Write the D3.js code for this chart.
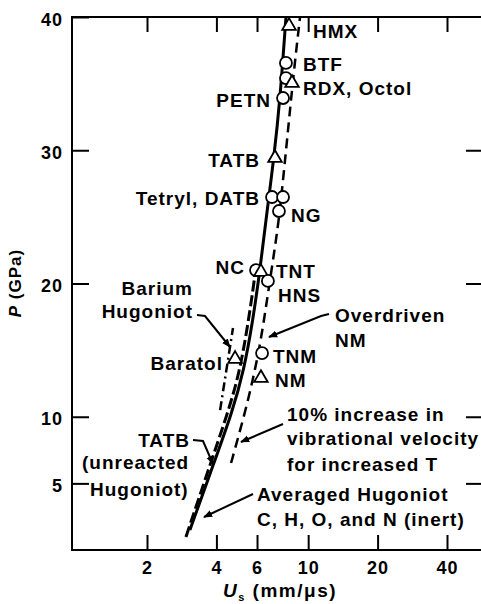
<!DOCTYPE html>
<head>
  <meta charset="utf-8">
  <title>Hugoniot P vs Us</title>
  <script src="https://d3js.org/d3.v7.min.js"></script>
  <style>
    body { margin: 0; background: #fff; }
    text { font-family: "Liberation Sans", Arial, Helvetica, sans-serif; font-weight: bold; fill: #000; }
  </style>
</head>
<body>
<script>
// ---- data: [Us (mm/us), P (GPa)] ----
var averagedHugoniot = [[3.07,1.5],[3.90,6.53],[4.67,10.28],[5.27,13.51],[5.76,17.26],[6.18,21.01],[6.56,24.77],[7.11,29.49],[7.55,33.77],[8.01,40]];
var tatbUnreacted = [[2.95,0.98],[3.75,6.38],[4.45,10.13],[5.01,13.13],[5.48,16.89],[5.88,20.64]];
var vib10pct = [[4.63,6.53],[5.22,9.76],[5.76,12.76],[6.24,15.76],[6.63,18.76],[7.04,21.76],[7.47,24.77],[7.86,28.52],[8.26,32.27],[8.68,36.02],[9.22,40]];
var bariumHugoniot = [[4.15,10.5],[4.72,16.66]];

var explosives = ["HMX","BTF","Octol","RDX","PETN","TATB","Tetryl","DATB","NG","NC","TNT","HNS","TNM","NM","Baratol"];
var expUs =      [8.26, 8.01, 8.01, 8.51, 7.78, 7.18, 6.97, 7.78, 7.47, 5.94, 6.24, 6.69, 6.31, 6.24, 4.82];
var expP =       [39.4, 36.55,35.42,35.12,33.92,29.49,26.49,26.49,25.44,21.01,20.94,20.19,14.78,12.98,14.41];
var expShape =   ["tri","circ","circ","tri","circ","tri","circ","circ","circ","circ","tri","circ","circ","tri","tri"];

var xTicks = [2, 4, 6, 10, 20, 40];
var yTicks = [5, 10, 20, 30, 40];

// ---- layout ----
var W = 481, H = 604;
var padL = 72, padR = 481, padT = 17, padB = 550;

var svg = d3.select("body").append("svg").attr("width", W).attr("height", H);

var x = d3.scaleLog().domain([2, 40]).range([147, 447]);
var y = d3.scaleLinear().domain([0, 40]).range([padB, padT]);

svg.append("defs").append("marker")
  .attr("id", "arr").attr("viewBox", "0 0 10 10").attr("refX", 9).attr("refY", 5)
  .attr("markerUnits", "userSpaceOnUse").attr("markerWidth", 9).attr("markerHeight", 9)
  .attr("orient", "auto")
  .append("path").attr("d", "M0,1 L10,5 L0,9 z").attr("fill", "#000");

// frame
var frame = svg.append("g").attr("stroke", "#000").attr("stroke-width", 2);
frame.append("line").attr("x1", padL).attr("x2", padL).attr("y1", padT - 1).attr("y2", padB + 1);
frame.append("line").attr("x1", padL - 1).attr("x2", padR).attr("y1", padT).attr("y2", padT);
frame.append("line").attr("x1", padL - 1).attr("x2", padR).attr("y1", padB).attr("y2", padB);

function styleAxis(g) {
  g.select(".domain").remove();
  g.selectAll(".tick line").attr("stroke", "#000").attr("stroke-width", 2);
  g.selectAll("text").attr("font-size", 18).attr("letter-spacing", 1).attr("font-family", null);
}

svg.append("g").attr("transform", "translate(0," + padB + ")")
  .call(d3.axisBottom(x).tickValues(xTicks).tickFormat(d3.format("d")).tickSize(-15).tickPadding(11))
  .call(styleAxis);
svg.append("g").attr("transform", "translate(0," + padT + ")")
  .call(d3.axisTop(x).tickValues(xTicks).tickFormat("").tickSize(-15))
  .call(styleAxis);
svg.append("g").attr("transform", "translate(" + padL + ",0)")
  .call(d3.axisLeft(y).tickValues(yTicks).tickSize(-17).tickPadding(9))
  .call(styleAxis)
  .selectAll("text").attr("dy", "0.45em");
svg.append("g").attr("transform", "translate(" + padR + ",0)")
  .call(d3.axisRight(y).tickValues([5, 10, 20, 30]).tickFormat("").tickSize(-15))
  .call(styleAxis);

// curves
var line = d3.line().x(function(d) { return x(d[0]); }).y(function(d) { return y(d[1]); })
  .curve(d3.curveBasis);

svg.append("path").datum(tatbUnreacted).attr("d", line)
  .attr("fill", "none").attr("stroke", "#000").attr("stroke-width", 3).attr("stroke-dasharray", "11,4");
svg.append("path").datum(vib10pct).attr("d", line)
  .attr("fill", "none").attr("stroke", "#000").attr("stroke-width", 2.5).attr("stroke-dasharray", "10,6");
svg.append("path").datum(bariumHugoniot).attr("d", line)
  .attr("fill", "none").attr("stroke", "#000").attr("stroke-width", 2.5).attr("stroke-dasharray", "9,4,2,4");
svg.append("path").datum(averagedHugoniot).attr("d", line)
  .attr("fill", "none").attr("stroke", "#000").attr("stroke-width", 3);

// explosive markers
var pts = svg.append("g").attr("fill", "#fff").attr("stroke", "#000").attr("stroke-width", 1.8);
var tri = d3.symbol().type(d3.symbolTriangle).size(80);
explosives.forEach(function(name, i) {
  var cx = x(expUs[i]), cy = y(expP[i]);
  if (expShape[i] === "circ") {
    pts.append("circle").attr("cx", cx).attr("cy", cy).attr("r", 6);
  } else {
    pts.append("path").attr("d", tri).attr("transform", "translate(" + cx + "," + (cy + 1) + ")");
  }
});

// annotation text
var labels = [
  ["HMX", 313, 38, "start"], ["BTF", 303, 71, "start"], ["RDX, Octol", 303, 95, "start"],
  ["PETN", 271, 107, "end"], ["TATB", 260, 167, "end"], ["Tetryl, DATB", 260, 205, "end"],
  ["NG", 291, 222, "start"], ["NC", 245, 274, "end"], ["TNT", 276, 278, "start"],
  ["HNS", 278, 302, "start"], ["Barium", 193, 295, "end"], ["Hugoniot", 193, 318, "end"],
  ["Baratol", 223, 370, "end"], ["Overdriven", 335, 322, "start"], ["NM", 335, 347, "start"],
  ["TNM", 273, 363, "start"], ["NM", 275, 387, "start"],
  ["10% increase in", 287, 421, "start"], ["vibrational velocity", 287, 445, "start"],
  ["for increased T", 287, 471, "start"],
  ["TATB", 190, 447, "end"], ["(unreacted", 82, 469, "start"], ["Hugoniot)", 90, 496, "start"],
  ["Averaged Hugoniot", 257, 501, "start"], ["C, H, O, and N (inert)", 257, 526, "start"]
];
svg.append("g").selectAll("text").data(labels).enter().append("text")
  .attr("x", function(d) { return d[1]; }).attr("y", function(d) { return d[2]; })
  .attr("text-anchor", function(d) { return d[3]; })
  .attr("font-size", 19).attr("letter-spacing", 1)
  .text(function(d) { return d[0]; });

// pointers
var pointers = [
  [[197, 315], [205, 316], [230, 347]],
  [[329, 314], [321, 316], [269, 337]],
  [[193, 440], [203, 441], [213, 464]],
  [[283, 424], [241, 442]],
  [[253, 494], [204, 517]]
];
pointers.forEach(function(p) {
  svg.append("path").attr("d", d3.line()(p)).attr("fill", "none")
    .attr("stroke", "#000").attr("stroke-width", 2).attr("marker-end", "url(#arr)");
});

// axis titles
var yt = svg.append("text").attr("transform", "translate(21,283) rotate(-90)")
  .attr("text-anchor", "middle").attr("font-size", 17).attr("letter-spacing", 1);
yt.append("tspan").attr("font-style", "italic").text("P");
yt.append("tspan").text(" (GPa)");

var xt = svg.append("text").attr("x", 280).attr("y", 597).attr("text-anchor", "middle")
  .attr("font-size", 19).attr("letter-spacing", 1.5);
xt.append("tspan").attr("font-style", "italic").text("U");
xt.append("tspan").attr("font-size", 11).attr("dy", 4).text("s");
xt.append("tspan").attr("dy", -4).text(" (mm/\u03bcs)");
</script>
</body>
